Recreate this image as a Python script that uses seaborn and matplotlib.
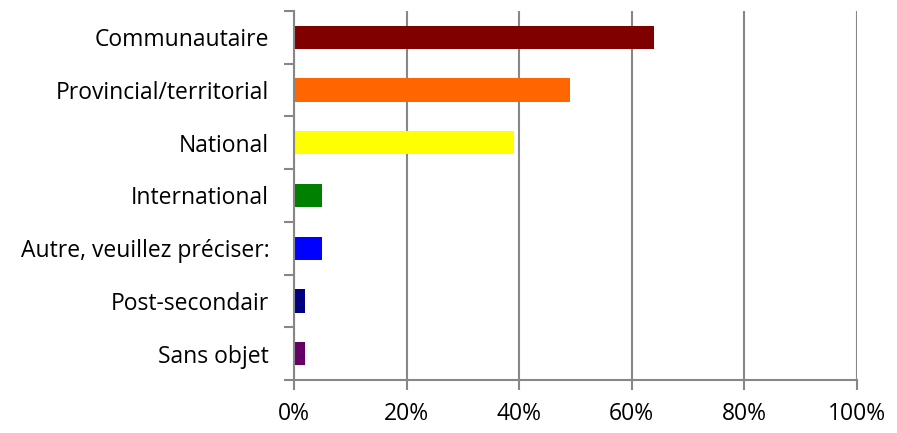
import numpy as np
import pandas as pd
import matplotlib
matplotlib.use("Agg")
import matplotlib.pyplot as plt
from matplotlib.ticker import FixedLocator, PercentFormatter
import seaborn as sns

categories = ["Communautaire", "Provincial/territorial", "National", "International",
              "Autre, veuillez préciser:", "Post-secondair", "Sans objet"]
values = [64, 49, 39, 5, 5, 2, 2]
colors = ["#800000", "#FF6600", "#FFFF00", "#008000", "#0000FF", "#000080", "#660066"]

df = pd.DataFrame({"cat": categories, "val": values})

sns.set_theme(style="white")
plt.rcParams["font.family"] = ["Open Sans", "DejaVu Sans"]

fig = plt.figure(figsize=(8.97, 4.33), dpi=100)
ax = fig.add_axes([0.328, 0.122, 0.627, 0.853])

sns.barplot(data=df, x="val", y="cat", hue="cat", palette=colors, orient="h",
            width=0.44, legend=False, ax=ax, saturation=1, linewidth=0)

ax.set_xlim(0, 100)
ax.set_ylim(6.5, -0.5)
ax.xaxis.set_major_locator(FixedLocator([0, 20, 40, 60, 80, 100]))
ax.xaxis.set_major_formatter(PercentFormatter(decimals=0))
ax.grid(axis="x", color="#878787", linewidth=1.5)
ax.set_axisbelow(True)
ax.set_xlabel("")
ax.set_ylabel("")

gc = "#878787"
for s in ["top", "right"]:
    ax.spines[s].set_visible(False)
for s in ["left", "bottom"]:
    ax.spines[s].set_color(gc)
    ax.spines[s].set_linewidth(1.5)

ax.yaxis.set_minor_locator(FixedLocator(np.arange(-0.5, 7, 1)))
ax.tick_params(axis="y", which="major", length=0, labelsize=16.5, pad=18, colors="black")
ax.tick_params(axis="y", which="minor", length=7, width=1.5, color=gc, direction="out", left=True)
ax.tick_params(axis="x", which="major", length=7, width=1.5, color=gc, direction="out",
               bottom=True, labelsize=16.5, pad=9, labelcolor="black")

fig.savefig("out.png", dpi=100)
